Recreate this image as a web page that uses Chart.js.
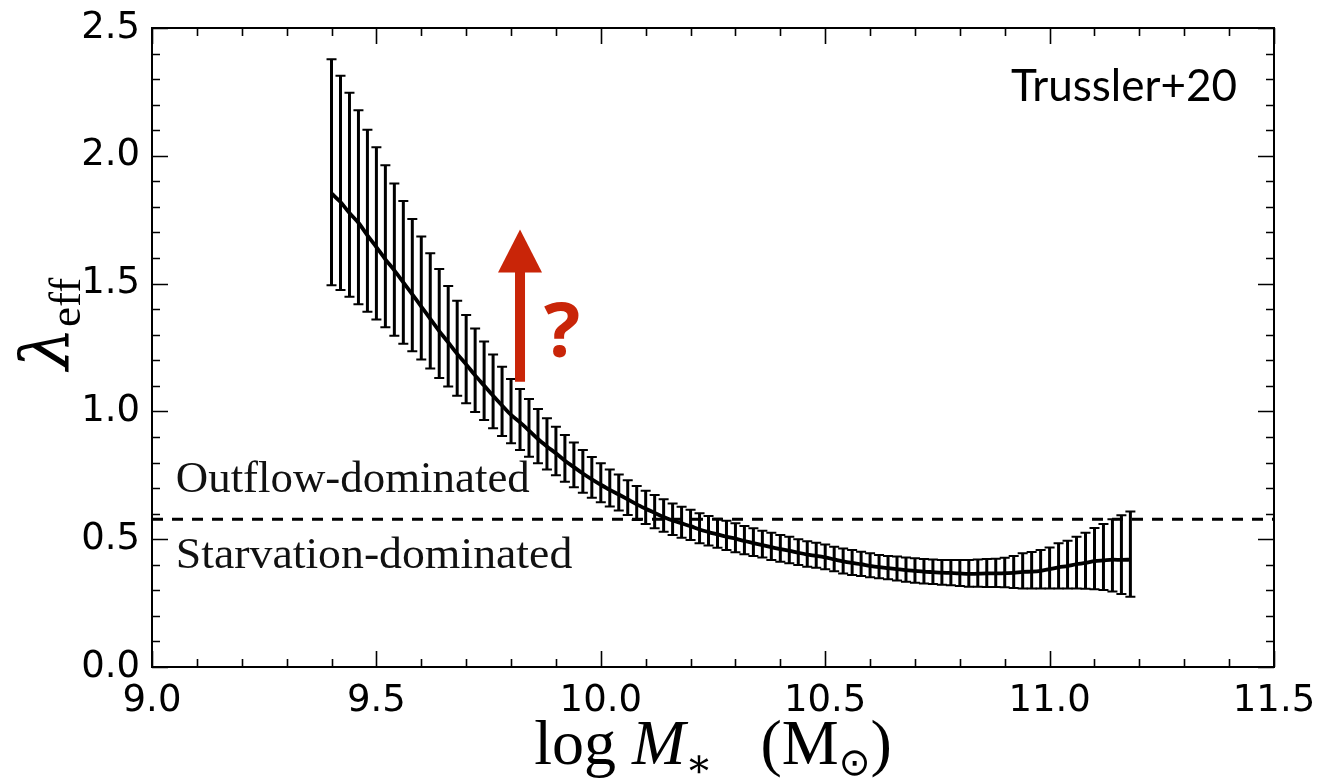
<!DOCTYPE html>
<html>
<head>
<meta charset="utf-8">
<script src="https://cdn.jsdelivr.net/npm/chart.js@4.4.1/dist/chart.umd.min.js"></script>
<style>
  html, body { margin: 0; padding: 0; background: #fff; }
  #wrap { width: 1321px; height: 779px; }
</style>
</head>
<body>
<div id="wrap"><canvas id="chart" width="1321" height="779"></canvas></div>
<script>
// log stellar mass grid
const logMass = [
  9.40, 9.42, 9.44, 9.46, 9.48, 9.50, 9.52, 9.54, 9.56, 9.58,
  9.60, 9.62, 9.64, 9.66, 9.68, 9.70, 9.72, 9.74, 9.76, 9.78,
  9.80, 9.82, 9.84, 9.86, 9.88, 9.90, 9.92, 9.94, 9.96, 9.98,
  10.00, 10.02, 10.04, 10.06, 10.08, 10.10, 10.12, 10.14, 10.16, 10.18,
  10.20, 10.22, 10.24, 10.26, 10.28, 10.30, 10.32, 10.34, 10.36, 10.38,
  10.40, 10.42, 10.44, 10.46, 10.48, 10.50, 10.52, 10.54, 10.56, 10.58,
  10.60, 10.62, 10.64, 10.66, 10.68, 10.70, 10.72, 10.74, 10.76, 10.78,
  10.80, 10.82, 10.84, 10.86, 10.88, 10.90, 10.92, 10.94, 10.96, 10.98,
  11.00, 11.02, 11.04, 11.06, 11.08, 11.10, 11.12, 11.14, 11.16, 11.18
];
// median lambda_eff
const lambdaMed = [
  1.853, 1.819, 1.776, 1.738, 1.689, 1.643, 1.595, 1.552, 1.505, 1.458,
  1.410, 1.362, 1.314, 1.270, 1.225, 1.184, 1.141, 1.101, 1.061, 1.023,
  0.986, 0.957, 0.925, 0.892, 0.863, 0.836, 0.807, 0.782, 0.757, 0.734,
  0.713, 0.693, 0.675, 0.656, 0.636, 0.619, 0.603, 0.587, 0.573, 0.562,
  0.551, 0.538, 0.528, 0.519, 0.510, 0.502, 0.493, 0.485, 0.477, 0.469,
  0.461, 0.455, 0.447, 0.440, 0.435, 0.429, 0.421, 0.413, 0.407, 0.402,
  0.396, 0.391, 0.387, 0.383, 0.379, 0.376, 0.373, 0.371, 0.369, 0.368,
  0.366, 0.364, 0.365, 0.366, 0.366, 0.367, 0.368, 0.372, 0.373, 0.376,
  0.383, 0.390, 0.395, 0.402, 0.407, 0.414, 0.417, 0.420, 0.419, 0.420
];
// upper end of error bar
const lambdaHi = [
  2.378, 2.313, 2.247, 2.178, 2.102, 2.033, 1.963, 1.892, 1.823, 1.753,
  1.684, 1.619, 1.557, 1.491, 1.433, 1.377, 1.324, 1.273, 1.223, 1.175,
  1.127, 1.088, 1.049, 1.009, 0.973, 0.940, 0.908, 0.878, 0.849, 0.822,
  0.797, 0.773, 0.753, 0.731, 0.708, 0.690, 0.673, 0.656, 0.640, 0.627,
  0.615, 0.602, 0.591, 0.580, 0.572, 0.562, 0.552, 0.543, 0.533, 0.525,
  0.516, 0.510, 0.500, 0.492, 0.486, 0.479, 0.470, 0.464, 0.458, 0.451,
  0.445, 0.438, 0.434, 0.432, 0.428, 0.425, 0.423, 0.421, 0.419, 0.419,
  0.419, 0.419, 0.421, 0.423, 0.424, 0.427, 0.434, 0.445, 0.450, 0.458,
  0.468, 0.484, 0.494, 0.510, 0.525, 0.544, 0.559, 0.578, 0.594, 0.608
];
// lower end of error bar
const lambdaLo = [
  1.494, 1.475, 1.449, 1.419, 1.390, 1.360, 1.329, 1.296, 1.265, 1.235,
  1.203, 1.168, 1.131, 1.097, 1.061, 1.032, 0.998, 0.966, 0.934, 0.904,
  0.875, 0.849, 0.823, 0.797, 0.773, 0.750, 0.725, 0.703, 0.682, 0.662,
  0.645, 0.628, 0.612, 0.595, 0.575, 0.559, 0.543, 0.529, 0.516, 0.506,
  0.497, 0.484, 0.475, 0.467, 0.458, 0.449, 0.441, 0.434, 0.428, 0.419,
  0.412, 0.406, 0.399, 0.392, 0.388, 0.382, 0.375, 0.366, 0.360, 0.356,
  0.351, 0.347, 0.343, 0.338, 0.334, 0.330, 0.327, 0.325, 0.322, 0.320,
  0.317, 0.314, 0.314, 0.313, 0.313, 0.312, 0.309, 0.307, 0.307, 0.307,
  0.307, 0.307, 0.307, 0.307, 0.306, 0.304, 0.301, 0.295, 0.286, 0.275
];
const xTicks = [9.0, 9.5, 10.0, 10.5, 11.0, 11.5];
const yTicks = [0.0, 0.5, 1.0, 1.5, 2.0, 2.5];
const dividerLevel = [0.578];

// annotation anchors (data coords)
const arrowBase = { x: 9.82, y: 1.116 };
const arrowTip = { x: 9.82, y: 1.712 };

const RED = '#c92508';
const SERIF = '"Liberation Serif", "DejaVu Serif", serif';

function richText(ctx, parts, x, y, align) {
  let w = 0;
  parts.forEach(p => { ctx.font = p[1]; w += ctx.measureText(p[0]).width; });
  let cx = align === 'center' ? x - w / 2 : x;
  ctx.textAlign = 'left';
  ctx.textBaseline = 'alphabetic';
  parts.forEach(p => {
    ctx.font = p[1];
    ctx.fillText(p[0], cx, y + (p[2] || 0));
    cx += ctx.measureText(p[0]).width;
  });
}

// stretched label, left aligned at (x, y)
function wideText(ctx, txt, x, y, sx) {
  ctx.save();
  ctx.translate(x, y);
  ctx.scale(sx, 1);
  ctx.fillText(txt, 0, 0);
  ctx.restore();
}

// error bars under the median curve
const errorBars = {
  id: 'errorBars',
  beforeDatasetsDraw(chart) {
    const { ctx, scales: { x, y } } = chart;
    ctx.save();
    ctx.strokeStyle = '#000';
    logMass.forEach((m, i) => {
      const px = x.getPixelForValue(m);
      const top = y.getPixelForValue(lambdaHi[i]);
      const bot = y.getPixelForValue(lambdaLo[i]);
      ctx.lineWidth = 3;
      ctx.beginPath();
      ctx.moveTo(px, top);
      ctx.lineTo(px, bot);
      ctx.stroke();
      ctx.lineWidth = 2;
      ctx.beginPath();
      ctx.moveTo(px - 5, top); ctx.lineTo(px + 5, top);
      ctx.moveTo(px - 5, bot); ctx.lineTo(px + 5, bot);
      ctx.stroke();
    });
    ctx.restore();
  }
};

// frame, inward ticks, labels and annotations
const decorations = {
  id: 'decorations',
  afterDraw(chart) {
    const { ctx, chartArea: a, scales: { x, y } } = chart;
    ctx.save();
    ctx.strokeStyle = '#000';
    ctx.fillStyle = '#000';

    // ticks on all four sides
    ctx.lineWidth = 1.6;
    ctx.beginPath();
    for (let k = 0; k <= 25; k++) {
      const v = 9 + k * 0.1;
      const len = k % 5 === 0 ? 16 : 8;
      const px = Math.round(x.getPixelForValue(v)) + 0.5;
      ctx.moveTo(px, a.bottom); ctx.lineTo(px, a.bottom - len);
      ctx.moveTo(px, a.top); ctx.lineTo(px, a.top + len);
    }
    for (let k = 0; k <= 25; k++) {
      const v = k * 0.1;
      const len = k % 5 === 0 ? 16 : 8;
      const py = Math.round(y.getPixelForValue(v)) + 0.5;
      ctx.moveTo(a.left, py); ctx.lineTo(a.left + len, py);
      ctx.moveTo(a.right, py); ctx.lineTo(a.right - len, py);
    }
    ctx.stroke();

    ctx.lineWidth = 2;
    ctx.strokeRect(a.left, a.top, a.right - a.left, a.bottom - a.top);

    // region labels
    ctx.font = '44px ' + SERIF;
    ctx.textAlign = 'left';
    ctx.textBaseline = 'alphabetic';
    ctx.fillStyle = '#111';
    wideText(ctx, 'Outflow-dominated', x.getPixelForValue(9.053), y.getPixelForValue(0.685), 1.02);
    wideText(ctx, 'Starvation-dominated', x.getPixelForValue(9.053), y.getPixelForValue(0.387), 1.04);

    // reference tag
    ctx.fillStyle = '#000';
    ctx.font = '44px Lato, "Open Sans", sans-serif';
    ctx.textAlign = 'right';
    ctx.fillText('Trussler+20', a.right - 37, a.top + 73);

    // red arrow with question mark
    const ax = x.getPixelForValue(arrowBase.x);
    const ay0 = y.getPixelForValue(arrowBase.y);
    const ay1 = y.getPixelForValue(arrowTip.y);
    const headH = 43, headW = 44, shaftW = 10;
    ctx.fillStyle = RED;
    ctx.fillRect(ax - shaftW / 2, ay1 + headH - 1, shaftW, ay0 - ay1 - headH + 1);
    ctx.beginPath();
    ctx.moveTo(ax, ay1);
    ctx.lineTo(ax + headW / 2, ay1 + headH);
    ctx.lineTo(ax - headW / 2, ay1 + headH);
    ctx.closePath();
    ctx.fill();
    ctx.font = 'bold 76px "Open Sans", Lato, sans-serif';
    ctx.textAlign = 'center';
    ctx.fillText('?', ax + 42, ay0 - 25);

    // axis titles
    ctx.fillStyle = '#000';
    richText(ctx, [
      ['log ', '64px ' + SERIF, 0],
      ['M', 'italic 64px ' + SERIF, 0],
      ['\u2217', '40px "DejaVu Serif", serif', 13],
      ['   (M', '64px ' + SERIF, 0],
      ['\u2299', '38px "DejaVu Sans", sans-serif', 11],
      [')', '64px ' + SERIF, 0]
    ], (a.left + a.right) / 2, 764, 'center');

    ctx.translate(68, 324);
    ctx.rotate(-Math.PI / 2);
    richText(ctx, [
      ['\u03bb', 'italic 68px "DejaVu Serif", serif', 0],
      ['eff', '45px ' + SERIF, 12]
    ], 0, 0, 'center');

    ctx.restore();
  }
};

new Chart(document.getElementById('chart'), {
  type: 'line',
  data: {
    datasets: [
      {
        data: logMass.map((m, i) => ({ x: m, y: lambdaMed[i] })),
        borderColor: '#000',
        borderWidth: 3.8,
        pointRadius: 0,
        tension: 0.3,
        fill: false
      },
      {
        data: [{ x: 9.0, y: dividerLevel[0] }, { x: 11.5, y: dividerLevel[0] }],
        borderColor: '#000',
        borderWidth: 3.2,
        borderDash: [11, 9],
        pointRadius: 0,
        fill: false
      }
    ]
  },
  options: {
    responsive: false,
    animation: false,
    layout: { padding: { left: 0, right: 47, top: 28, bottom: 0 } },
    plugins: {
      legend: { display: false },
      tooltip: { enabled: false }
    },
    scales: {
      x: {
        type: 'linear',
        min: 9.0,
        max: 11.5,
        afterBuildTicks: s => { s.ticks = xTicks.map(v => ({ value: v })); },
        afterFit: s => { s.height = 112; s.paddingLeft = 0; s.paddingRight = 0; },
        grid: { display: false, drawTicks: false },
        border: { display: false },
        ticks: {
          color: '#000',
          font: { family: '"DejaVu Sans"', size: 37 },
          padding: 12,
          maxRotation: 0,
          autoSkip: false,
          callback: v => v.toFixed(1)
        }
      },
      y: {
        type: 'linear',
        min: 0,
        max: 2.5,
        afterBuildTicks: s => { s.ticks = yTicks.map(v => ({ value: v })); },
        afterFit: s => { s.width = 152; s.paddingTop = 0; s.paddingBottom = 0; },
        grid: { display: false, drawTicks: false },
        border: { display: false },
        ticks: {
          color: '#000',
          font: { family: '"DejaVu Sans"', size: 37 },
          padding: 12,
          autoSkip: false,
          callback: v => v.toFixed(1)
        }
      }
    }
  },
  plugins: [errorBars, decorations]
});
</script>
</body>
</html>
